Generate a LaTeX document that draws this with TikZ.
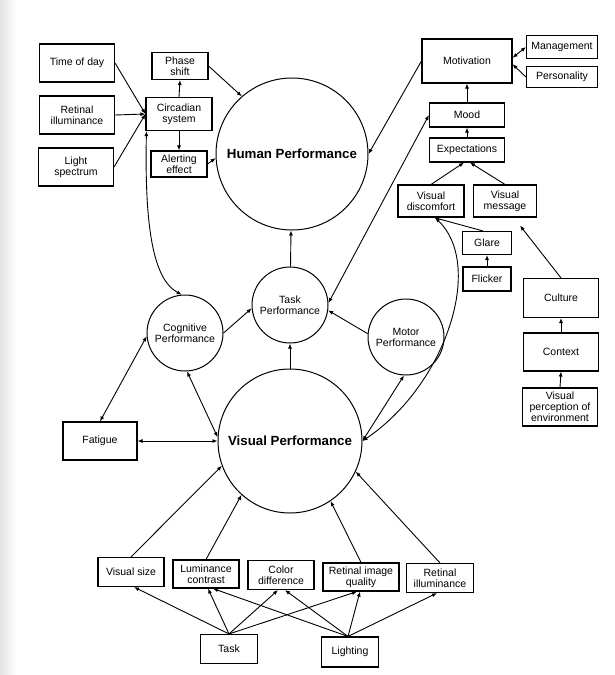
\documentclass[tikz,border=0pt]{standalone}
\usepackage{fontspec}
\setmainfont{Liberation Sans}
\usetikzlibrary{arrows.meta,calc}
\newcommand\perfbold{\fontsize{13.3}{15}\selectfont\bfseries}
\begin{document}
\begin{tikzpicture}[x=1pt,y=-1pt,
  bx/.style={draw,line width=1.1pt,align=center,inner sep=0pt,font=\fontsize{10.5}{11}\selectfont},
  circ/.style={circle,draw,line width=1pt,align=center,inner sep=0pt,font=\fontsize{10.5}{11}\selectfont},
  arr/.style={line width=0.9pt,-{Latex[length=5pt,width=4pt]}},
  darr/.style={line width=0.9pt,{Latex[length=5pt,width=4pt]}-{Latex[length=5pt,width=4pt]}}]
\useasboundingbox (0,0) rectangle (614,675);
\fill[white] (0,0) rectangle (614,675);
\fill[left color=gray!22,right color=white] (0,0) rectangle (16,675);
% top left
\node[bx,minimum width=75pt,minimum height=38pt] (tod) at (77,63) {Time of day};
\node[bx,minimum width=75pt,minimum height=38pt] (ril) at (77,115) {Retinal\\illuminance};
\node[bx,minimum width=75pt,minimum height=38pt] (ls) at (76,167) {Light\\spectrum};
\node[bx,minimum width=56pt,minimum height=27pt] (ps) at (180,66) {Phase\\shift};
\node[bx,minimum width=66pt,minimum height=33pt] (cs) at (179,114) {Circadian\\system};
\node[bx,minimum width=56pt,minimum height=26pt] (ae) at (179,164) {Alerting\\effect};
\node[circ,minimum size=152pt] (HP) at (292,154) {\perfbold Human Performance};
% top right
\node[bx,minimum width=90pt,minimum height=44pt] (mot) at (467,61) {Motivation};
\node[bx,minimum width=71pt,minimum height=23pt] (mgmt) at (562,47) {Management};
\node[bx,minimum width=71pt,minimum height=21pt] (pers) at (562,77) {Personality};
\node[bx,minimum width=75pt,minimum height=24pt] (mood) at (467,115) {Mood};
\node[bx,minimum width=75pt,minimum height=24pt] (exp) at (467,150) {Expectations};
\node[bx,minimum width=66pt,minimum height=32pt] (vd) at (431,201) {Visual\\discomfort};
\node[bx,minimum width=63pt,minimum height=32pt] (vm) at (505,201) {Visual\\message};
\node[bx,minimum width=49pt,minimum height=23pt] (glare) at (487,243) {Glare};
\node[bx,minimum width=48pt,minimum height=24pt] (flick) at (487,279) {Flicker};
\node[bx,minimum width=75pt,minimum height=39pt] (cult) at (561,298) {Culture};
\node[bx,minimum width=75pt,minimum height=38pt] (ctx) at (561,352) {Context};
\node[bx,minimum width=75pt,minimum height=38pt] (vpe) at (560,407) {Visual\\perception of\\environment};
% middle
\node[circ,minimum size=76pt] (TP) at (290,305) {Task\\Performance};
\node[circ,minimum size=76pt] (CP) at (185,333) {Cognitive\\Performance};
\node[circ,minimum size=76pt] (MP) at (406,337) {Motor\\Performance};
\node[circ,minimum size=144pt] (VP) at (290,441) {\perfbold Visual Performance};
\node[bx,minimum width=74pt,minimum height=38pt] (fat) at (100,441) {Fatigue};
% bottom
\node[bx,minimum width=66pt,minimum height=29pt] (vs) at (131,572) {Visual size};
\node[bx,minimum width=66pt,minimum height=28pt] (lc) at (206,574) {Luminance\\contrast};
\node[bx,minimum width=66pt,minimum height=29pt] (cd) at (281,575) {Color\\difference};
\node[bx,minimum width=76pt,minimum height=28pt] (riq) at (361,577) {Retinal image\\quality};
\node[bx,minimum width=67pt,minimum height=29pt] (rib) at (440,578) {Retinal\\illuminance};
\node[bx,minimum width=57pt,minimum height=29pt] (task) at (229,649) {Task};
\node[bx,minimum width=57pt,minimum height=30pt] (light) at (350,652) {Lighting};
% connectors top left
\draw[arr] (tod.east) -- (cs.west);
\draw[arr] (ril.east) -- (cs.west);
\draw[arr] (ls.east) -- (cs.west);
\draw[arr] (cs.north) -- (ps.south);
\draw[arr] (cs.south) -- (ae.north);
\draw[arr] (ps.east) -- (HP.131);
\draw[arr] (ae.east) -- (HP.183);
% top right
\draw[arr] (mot.west) -- (HP.east);
\draw[darr] (mot.4) -- (mgmt.west);
\draw[arr] (pers.west) -- (mot.-4);
\draw[arr] (mood.north) -- (mot.south);
\draw[arr] (exp.north) -- (mood.south);
\draw[arr] (vd.north) -- ($(exp.south)+(-3,0)$);
\draw[arr] (vm.north) -- ($(exp.south)+(3,0)$);
\draw[arr] ($(glare.north)+(-4,0)$) -- ($(vd.south)+(3,0)$);
\draw[arr] (flick.north) -- (glare.south);
\coordinate (vmtip) at ($(vm.south)+(15,8)$);
\draw[arr] (cult.north) -- (vmtip);
\draw[arr] (ctx.north) -- (cult.south);
\draw[arr] (vpe.north) -- (ctx.south);
% middle
\draw[arr] (TP) -- (HP);
\draw[arr] (VP) -- (TP);
\draw[arr] (CP.east) -- (TP.185);
\draw[arr] (MP.175) -- (TP.-8);
\draw[darr] (mood.west) -- (TP.3);
\coordinate (csb) at ($(cs.south west)+(1,0)$);
\draw[darr] (csb) .. controls +(-2,98) and +(-28,-15) .. (CP.95);
\draw[darr] (fat.north) -- (CP.185);
\draw[darr] (CP.-87) -- (VP.177);
\draw[darr] (fat.east) -- (VP.west);
\draw[darr] (VP.east) -- (MP.-93);
\coordinate (vdb) at ($(vd.south)+(4,0)$);
\draw[darr] (VP.east) .. controls +(83,-56) and +(50,48) .. (vdb);
% bottom
\draw[arr] (vs.north) -- (VP.200);
\draw[arr] (lc.north) -- (VP.228);
\draw[arr] (riq.north) -- (VP.-56);
\draw[arr] (rib.north) -- (VP.-25);
\draw[arr] (task.north) -- ($(vs.south)+(3,0)$);
\draw[arr] (task.north) -- ($(lc.south)+(2,0)$);
\draw[arr] (task.north) -- ($(cd.south)+(-3,0)$);
\draw[arr] (task.north) -- ($(riq.south)+(-4,0)$);
\coordinate (lt) at ($(light.north)+(-2,0)$);
\draw[arr] (lt) -- ($(lc.south)+(7,0)$);
\draw[arr] (lt) -- ($(cd.south)+(4,0)$);
\draw[arr] (lt) -- ($(riq.south)+(-1,0)$);
\draw[arr] (lt) -- ($(rib.south)+(-3,0)$);
\end{tikzpicture}
\end{document}
